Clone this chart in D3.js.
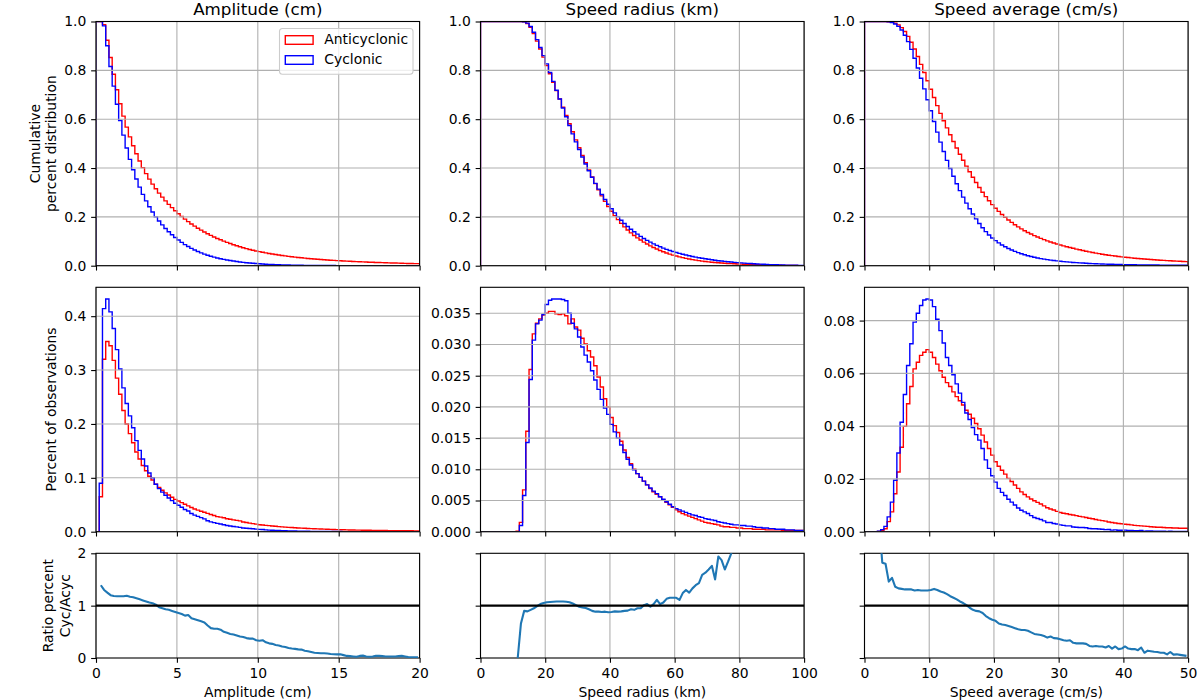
<!DOCTYPE html>
<html>
<head>
<meta charset="utf-8">
<script src="https://cdn.jsdelivr.net/npm/d3@7"></script>
<style>
    body { margin: 0; background: #fff; }
    text { font-family: "DejaVu Sans", sans-serif; fill: #000; }
    .tick text { font-size: 13.9px; }
</style>
</head>
<body>
<div id="chart"></div>
<script>
// histogram densities, 100 bins per panel (bin i covers [i*w, (i+1)*w])
const ampAnticyclonic = [
    0, 0.065, 0.32, 0.353, 0.345, 0.318, 0.285, 0.255, 0.225, 0.200,
    0.182, 0.165, 0.148, 0.135, 0.123, 0.113, 0.103, 0.096, 0.088, 0.082,
    0.077, 0.072, 0.068, 0.064, 0.060, 0.057, 0.054, 0.051, 0.048, 0.045,
    0.042, 0.040, 0.038, 0.036, 0.034, 0.032, 0.030, 0.028, 0.027, 0.026,
    0.024, 0.023, 0.022, 0.021, 0.020, 0.018, 0.017, 0.016, 0.015, 0.014,
    0.0130, 0.0124, 0.0118, 0.0112, 0.0106, 0.0100, 0.0095, 0.0090, 0.0085, 0.0081,
    0.0077, 0.0073, 0.0069, 0.0066, 0.0063, 0.0060, 0.0057, 0.0054, 0.0052, 0.0049,
    0.0047, 0.0045, 0.0043, 0.0041, 0.0039, 0.0037, 0.0035, 0.0034, 0.0032, 0.0031,
    0.0030, 0.0029, 0.0028, 0.0027, 0.0026, 0.0025, 0.0024, 0.0023, 0.0022, 0.0021,
    0.0020, 0.0020, 0.0019, 0.0019, 0.0018, 0.0018, 0.0017, 0.0017, 0.0016, 0.0016
];
const ampCyclonic = [
    0, 0.090, 0.414, 0.432, 0.408, 0.377, 0.338, 0.302, 0.267, 0.238,
    0.215, 0.193, 0.169, 0.151, 0.135, 0.122, 0.109, 0.100, 0.088, 0.080,
    0.0735, 0.0677, 0.0626, 0.0576, 0.0528, 0.0490, 0.0454, 0.0413, 0.0384, 0.0338,
    0.0307, 0.0284, 0.0262, 0.0238, 0.0204, 0.0182, 0.0168, 0.0154, 0.0143, 0.0130,
    0.0115, 0.0106, 0.0097, 0.0090, 0.0080, 0.0070, 0.0065, 0.0059, 0.0054, 0.0048,
    0.0043, 0.0040, 0.0034, 0.0030, 0.0028, 0.0025, 0.0023, 0.0020, 0.0017, 0.0015,
    0.0014, 0.0012, 0.0011, 0.0010, 0.0009, 0.0008, 0.00066, 0.00054, 0.0005, 0.00044,
    0.00042, 0.00038, 0.00033, 0.0003, 0.00027, 0.00026, 0.00019, 0.00014, 0.0001, 0.00008,
    0.00008, 0.0001, 0.00011, 0.00008, 0.00007, 0.00008, 0.0001, 0.0001, 0.00008, 0.00007,
    0.00007, 0.00008, 0.00007, 0.00006, 0.00005, 0.00004, 0.00004, 0.00004, 0.00003, 0.00003
];
// ratio Cyc/Acyc at bin centres
const ampRatio = [
    null, 1.39, 1.30, 1.25, 1.20, 1.185, 1.18, 1.18, 1.18, 1.19,
    1.17, 1.16, 1.14, 1.12, 1.10, 1.08, 1.06, 1.045, 1.02, 0.97,
    0.95, 0.93, 0.92, 0.90, 0.88, 0.86, 0.84, 0.81, 0.82, 0.76,
    0.74, 0.72, 0.70, 0.68, 0.62, 0.57, 0.56, 0.56, 0.54, 0.50,
    0.48, 0.46, 0.45, 0.43, 0.41, 0.40, 0.38, 0.37, 0.37, 0.34,
    0.33, 0.34, 0.30, 0.28, 0.27, 0.25, 0.24, 0.22, 0.21, 0.19,
    0.18, 0.175, 0.165, 0.16, 0.14, 0.13, 0.115, 0.10, 0.095, 0.09,
    0.09, 0.085, 0.076, 0.073, 0.07, 0.07, 0.055, 0.04, 0.035, 0.03,
    0.025, 0.04, 0.045, 0.03, 0.025, 0.03, 0.04, 0.04, 0.035, 0.03,
    0.03, 0.03, 0.03, 0.035, 0.04, 0.03, 0.02, 0.015, 0.015, 0.015
];

const radiusAnticyclonic = [
    0, 0, 0, 0, 0, 0, 0, 0, 0, 0,
    0, 0.0001, 0.0015, 0.0067, 0.0161, 0.0260, 0.0317, 0.0334, 0.0341, 0.0347,
    0.0350, 0.0353, 0.0353, 0.0349, 0.0348, 0.0349, 0.0346, 0.0333, 0.0341, 0.0328,
    0.0323, 0.0310, 0.0301, 0.0290, 0.0280, 0.0266, 0.0248, 0.0232, 0.0213, 0.0200,
    0.0183, 0.0170, 0.0159, 0.0145, 0.0131, 0.0119, 0.0109, 0.0100, 0.0093, 0.0087,
    0.0081, 0.0075, 0.0069, 0.0064, 0.0060, 0.0056, 0.0051, 0.0047, 0.0043, 0.0039,
    0.0035, 0.0032, 0.0029, 0.0027, 0.0025, 0.0023, 0.0021, 0.0019, 0.0017, 0.0015,
    0.0014, 0.0013, 0.0012, 0.0011, 0.0009, 0.0008, 0.0008, 0.0007, 0.0007, 0.0006,
    0.0006, 0.0005, 0.0005, 0.0005, 0.0004, 0.0004, 0.0004, 0.0004, 0.0003, 0.0003,
    0.0003, 0.0003, 0.0003, 0.0002, 0.0002, 0.0002, 0.0002, 0.0002, 0.0002, 0.0002
];
const radiusCyclonic = [
    0, 0, 0, 0, 0, 0, 0, 0, 0, 0,
    0, 0, 0.0010, 0.0058, 0.0143, 0.0244, 0.0307, 0.0333, 0.0339, 0.0348,
    0.0364, 0.0371, 0.0373, 0.0373, 0.0373, 0.0372, 0.0370, 0.0350, 0.0334, 0.0325,
    0.0312, 0.0296, 0.0283, 0.0272, 0.0258, 0.0243, 0.0228, 0.0212, 0.0198, 0.0188,
    0.0172, 0.0160, 0.0150, 0.0139, 0.0127, 0.0116, 0.0107, 0.0099, 0.0093, 0.0087,
    0.0081, 0.0075, 0.0070, 0.0065, 0.0061, 0.0056, 0.0052, 0.0048, 0.0044, 0.0040,
    0.0037, 0.0035, 0.0033, 0.0031, 0.0029, 0.0027, 0.0026, 0.0024, 0.0023, 0.0021,
    0.0020, 0.0019, 0.0018, 0.0016, 0.0015, 0.0014, 0.0013, 0.0012, 0.0011, 0.0011,
    0.0010, 0.0010, 0.0009, 0.0009, 0.0008, 0.0007, 0.0007, 0.0006, 0.0006, 0.0005,
    0.0005, 0.0004, 0.0004, 0.0004, 0.0003, 0.0003, 0.0003, 0.0002, 0.0002, 0.0002
];
const radiusRatio = [
    null, null, null, null, null, null, null, null, null, null,
    null, 0, 0.66, 0.90, 0.89, 0.92, 0.95, 0.99, 1.03, 1.05,
    1.065, 1.07, 1.075, 1.08, 1.08, 1.08, 1.075, 1.065, 1.04, 1.01,
    0.98, 0.965, 0.955, 0.93, 0.90, 0.885, 0.885, 0.88, 0.885, 0.875,
    0.88, 0.89, 0.885, 0.89, 0.90, 0.905, 0.93, 0.92, 0.95, 0.95,
    1.01, 1.03, 0.98, 1.03, 1.11, 1.03, 1.06, 1.13, 1.15, 1.15,
    1.15, 1.11, 1.24, 1.30, 1.25, 1.33, 1.39, 1.43, 1.59, 1.63,
    1.69, 1.76, 1.50, 1.94, 1.87, 1.69, 1.84, 2.0, 2.2, null,
    null, null, null, null, null, null, null, null, null, null,
    null, null, null, null, null, null, null, null, null, null
];

const speedAnticyclonic = [
    0, 0, 0, 0, 0.0001, 0.0005, 0.0011, 0.0038, 0.0075, 0.0144,
    0.0226, 0.0320, 0.0399, 0.0485, 0.0550, 0.0617, 0.0642, 0.0668, 0.0680, 0.0690,
    0.0680, 0.0660, 0.0635, 0.0610, 0.0585, 0.0565, 0.0550, 0.0530, 0.0512, 0.0496,
    0.0480, 0.0460, 0.0445, 0.0430, 0.0410, 0.0390, 0.0366, 0.0340, 0.0315, 0.0290,
    0.0265, 0.0248, 0.0233, 0.0218, 0.0202, 0.0190, 0.0177, 0.0164, 0.0151, 0.0141,
    0.0132, 0.0124, 0.0117, 0.0111, 0.0105, 0.0098, 0.0091, 0.0086, 0.0082, 0.0077,
    0.0073, 0.0070, 0.0068, 0.0065, 0.0063, 0.0061, 0.0058, 0.0056, 0.0054, 0.0051,
    0.0049, 0.0046, 0.0044, 0.0042, 0.0040, 0.0037, 0.0035, 0.0033, 0.0031, 0.0030,
    0.0028, 0.0027, 0.0026, 0.0024, 0.0023, 0.0022, 0.0021, 0.0020, 0.0019, 0.0018,
    0.0017, 0.0017, 0.0016, 0.0015, 0.0015, 0.0014, 0.0014, 0.0013, 0.0013, 0.0013
];
const speedCyclonic = [
    0, 0, 0, 0, 0.0002, 0.0008, 0.0020, 0.0056, 0.0112, 0.0195,
    0.0298, 0.0415, 0.0520, 0.0630, 0.0712, 0.0794, 0.0828, 0.0857, 0.0878, 0.0882,
    0.0878, 0.0853, 0.0805, 0.0762, 0.0715, 0.0660, 0.0630, 0.0595, 0.0560, 0.0525,
    0.0490, 0.0450, 0.0425, 0.0395, 0.0368, 0.0347, 0.0315, 0.0272, 0.0240, 0.0212,
    0.0188, 0.0164, 0.0149, 0.0137, 0.0123, 0.0112, 0.0101, 0.0090, 0.0081, 0.0075,
    0.0069, 0.0061, 0.0054, 0.0050, 0.0046, 0.0041, 0.0035, 0.0035, 0.0031, 0.0029,
    0.0026, 0.0024, 0.0022, 0.0022, 0.0018, 0.0017, 0.0016, 0.0016, 0.0015, 0.0012,
    0.0011, 0.0011, 0.0010, 0.0009, 0.0008, 0.00085, 0.0006, 0.0007, 0.00053, 0.00054,
    0.0006, 0.0005, 0.00044, 0.0004, 0.00035, 0.00044, 0.0002, 0.00028, 0.00025, 0.00022,
    0.0002, 0.00017, 0.00016, 0.0001, 0.00017, 0.00009, 0.0001, 0.00008, 0.00007, 0.00005
];
const speedRatio = [
    null, null, null, null, 2.6, 1.82, 1.80, 1.46, 1.53, 1.36,
    1.33, 1.32, 1.31, 1.31, 1.31, 1.29, 1.30, 1.29, 1.29, 1.29,
    1.30, 1.32, 1.30, 1.27, 1.25, 1.22, 1.18, 1.15, 1.12, 1.08,
    1.05, 1.01, 0.96, 0.92, 0.90, 0.89, 0.86, 0.80, 0.76, 0.73,
    0.71, 0.66, 0.64, 0.63, 0.61, 0.59, 0.57, 0.55, 0.535, 0.535,
    0.52, 0.49, 0.46, 0.45, 0.44, 0.42, 0.39, 0.41, 0.38, 0.375,
    0.36, 0.34, 0.33, 0.34, 0.29, 0.28, 0.28, 0.28, 0.27, 0.23,
    0.22, 0.23, 0.22, 0.22, 0.20, 0.23, 0.18, 0.22, 0.17, 0.18,
    0.22, 0.18, 0.17, 0.17, 0.15, 0.20, 0.10, 0.14, 0.13, 0.12,
    0.115, 0.10, 0.10, 0.07, 0.115, 0.064, 0.07, 0.06, 0.05, 0.04
];

// share of observations beyond the last bin (cumulative curve end value)
const tailAnticyclonic = [0.008, 0.0, 0.016];
const tailCyclonic = [0.0, 0.001, 0.002];

const binWidths = [0.2, 1, 0.5];
const titles = ['Amplitude (cm)', 'Speed radius (km)', 'Speed average (cm/s)'];
const xTicks = [[0, 5, 10, 15, 20], [0, 20, 40, 60, 80, 100], [0, 10, 20, 30, 40, 50]];
const cumulativeTicks = [0, 0.2, 0.4, 0.6, 0.8, 1.0];
const histTicks = [
    [0, 0.1, 0.2, 0.3, 0.4],
    [0, 0.005, 0.01, 0.015, 0.02, 0.025, 0.03, 0.035],
    [0, 0.02, 0.04, 0.06, 0.08]
];
const histTickFormats = ['.1f', '.3f', '.2f'];
const ratioTicks = [0, 1, 2];
const legendLabels = ['Anticyclonic', 'Cyclonic'];

const anticyclonic = [ampAnticyclonic, radiusAnticyclonic, speedAnticyclonic];
const cyclonic = [ampCyclonic, radiusCyclonic, speedCyclonic];
const ratios = [ampRatio, radiusRatio, speedRatio];

const width = 1200;
const height = 700;
const colLeft = [96, 480.5, 864.5];
const plotWidth = 323.6;
const rowTop = [21.5, 287.3, 553.3];
const rowHeight = [244.2, 244.4, 104.7];
const red = '#ff0000';
const blue = '#0000ff';

const svg = d3.select('#chart').append('svg')
    .attr('width', width)
    .attr('height', height);

function stepPoints(values, binWidth) {
    const points = [[0, 0]];
    values.forEach((v, i) => {
        points.push([i * binWidth, v], [(i + 1) * binWidth, v]);
    });
    points.push([values.length * binWidth, 0]);
    return points;
}

// share of observations at or above each bin's left edge
function reverseCumulative(values, tail) {
    const total = d3.sum(values);
    const fromLeft = d3.cumsum(values);
    return values.map((v, i) => tail + (1 - tail) * (total - fromLeft[i] + v) / total);
}

function panel(col, row, x, y, opts) {
    const h = rowHeight[row];
    const g = svg.append('g')
        .attr('transform', `translate(${colLeft[col]},${rowTop[row]})`);

    const clipId = `clip-${col}-${row}`;
    g.append('clipPath').attr('id', clipId)
        .append('rect')
        .attr('width', plotWidth)
        .attr('height', h);

    const plot = g.append('g').attr('clip-path', `url(#${clipId})`);
    const grid = g.append('g');

    grid.selectAll('.gx')
        .data(opts.xTicks)
        .join('line')
        .attr('x1', d => x(d))
        .attr('x2', d => x(d))
        .attr('y1', 0)
        .attr('y2', h)
        .attr('stroke', '#b0b0b0')
        .attr('stroke-width', 1.1);

    if (opts.gridY) {
        grid.selectAll('.gy')
            .data(opts.yTicks)
            .join('line')
            .attr('x1', 0)
            .attr('x2', plotWidth)
            .attr('y1', d => y(d))
            .attr('y2', d => y(d))
            .attr('stroke', '#b0b0b0')
            .attr('stroke-width', 1.1);
    }

    const xAxis = d3.axisBottom(x)
        .tickValues(opts.xTicks)
        .tickSize(4.86)
        .tickSizeOuter(0)
        .tickPadding(4.86)
        .tickFormat(opts.xLabels ? d3.format('d') : '');

    const yAxis = d3.axisLeft(y)
        .tickValues(opts.yTicks)
        .tickSize(4.86)
        .tickSizeOuter(0)
        .tickPadding(4.86)
        .tickFormat(opts.yLabels ? d3.format(opts.yFormat) : '');

    const top = g.append('g');
    top.append('g')
        .attr('transform', `translate(0,${h})`)
        .call(xAxis)
        .call(a => a.select('.domain').remove())
        .call(a => a.attr('font-size', null).attr('font-family', null))
        .call(a => a.selectAll('line').attr('stroke', '#000').attr('stroke-width', 1.1));

    top.append('g')
        .call(yAxis)
        .call(a => a.select('.domain').remove())
        .call(a => a.attr('font-size', null).attr('font-family', null))
        .call(a => a.selectAll('line').attr('stroke', '#000').attr('stroke-width', 1.1));

    top.append('rect')
        .attr('width', plotWidth)
        .attr('height', h)
        .attr('fill', 'none')
        .attr('stroke', '#000')
        .attr('stroke-width', 1.1);

    return { plot, grid, top };
}

for (let c = 0; c < 3; c++) {
    const w = binWidths[c];
    const n = anticyclonic[c].length;
    const x = d3.scaleLinear()
        .domain([0, n * w])
        .range([0, plotWidth]);

    // row 1: cumulative percent distribution
    const yCum = d3.scaleLinear().domain([0, 1]).range([rowHeight[0], 0]);
    const p1 = panel(c, 0, x, yCum, {
        xTicks: xTicks[c], yTicks: cumulativeTicks, yFormat: '.1f',
        xLabels: false, yLabels: true, gridY: true
    });
    const lineCum = d3.line().x(d => x(d[0])).y(d => yCum(d[1]));
    [[anticyclonic[c], tailAnticyclonic[c], red], [cyclonic[c], tailCyclonic[c], blue]]
        .forEach(([values, tail, color]) => {
            p1.plot.append('path')
                .attr('d', lineCum(stepPoints(reverseCumulative(values, tail), w)))
                .attr('fill', 'none')
                .attr('stroke', color)
                .attr('stroke-width', 1.4);
        });
    p1.grid.raise();
    p1.top.raise();

    // row 2: percent of observations
    const histMax = d3.max([...anticyclonic[c], ...cyclonic[c]]) * 1.05;
    const yHist = d3.scaleLinear().domain([0, histMax]).range([rowHeight[1], 0]);
    const p2 = panel(c, 1, x, yHist, {
        xTicks: xTicks[c], yTicks: histTicks[c], yFormat: histTickFormats[c],
        xLabels: false, yLabels: true, gridY: true
    });
    const lineHist = d3.line().x(d => x(d[0])).y(d => yHist(d[1]));
    [[anticyclonic[c], red], [cyclonic[c], blue]].forEach(([values, color]) => {
        p2.plot.append('path')
            .attr('d', lineHist(stepPoints(values, w)))
            .attr('fill', 'none')
            .attr('stroke', color)
            .attr('stroke-width', 1.4);
    });
    p2.grid.raise();
    p2.top.raise();

    // row 3: ratio Cyc/Acyc
    const yRatio = d3.scaleLinear().domain([0, 2]).range([rowHeight[2], 0]);
    const p3 = panel(c, 2, x, yRatio, {
        xTicks: xTicks[c], yTicks: ratioTicks, yFormat: 'd',
        xLabels: true, yLabels: c === 0, gridY: false
    });
    const ratioLine = d3.line()
        .defined(d => d.r !== null)
        .x(d => x(d.x))
        .y(d => yRatio(d.r));
    p3.top.raise();
    p3.plot.raise();
    p3.plot.append('path')
        .datum(ratios[c].map((r, i) => ({ x: (i + 0.5) * w, r: r })))
        .attr('d', ratioLine)
        .attr('fill', 'none')
        .attr('stroke', '#1f77b4')
        .attr('stroke-width', 2.1)
        .attr('stroke-linejoin', 'round');
    p3.plot.append('line')
        .attr('x1', 0)
        .attr('x2', plotWidth)
        .attr('y1', yRatio(1))
        .attr('y2', yRatio(1))
        .attr('stroke', '#000')
        .attr('stroke-width', 2.2);

    const cx = colLeft[c] + plotWidth / 2;
    svg.append('text')
        .attr('x', cx)
        .attr('y', 14.5)
        .attr('text-anchor', 'middle')
        .attr('font-size', '16.7px')
        .text(titles[c]);

    svg.append('text')
        .attr('x', cx)
        .attr('y', 696.5)
        .attr('text-anchor', 'middle')
        .attr('font-size', '13.9px')
        .text(titles[c]);
}

// y axis labels
const yLabels = [
    { lines: ['Cumulative', 'percent distribution'], xs: [39.5, 56.2], row: 0 },
    { lines: ['Percent of observations'], xs: [56.2], row: 1 },
    { lines: ['Ratio percent', 'Cyc/Acyc'], xs: [52.8, 69.5], row: 2 }
];
yLabels.forEach(lbl => {
    const cy = rowTop[lbl.row] + rowHeight[lbl.row] / 2;
    lbl.lines.forEach((t, i) => {
        svg.append('text')
            .attr('transform', `translate(${lbl.xs[i]},${cy}) rotate(-90)`)
            .attr('text-anchor', 'middle')
            .attr('font-size', '13.9px')
            .text(t);
    });
});

// legend
const legend = svg.append('g').attr('transform', 'translate(279.5,28.5)');
legend.append('rect')
    .attr('width', 133.5)
    .attr('height', 45.8)
    .attr('rx', 3)
    .attr('fill', '#fff')
    .attr('fill-opacity', 0.8)
    .attr('stroke', '#cccccc')
    .attr('stroke-width', 1.1);
legend.selectAll('.item')
    .data(legendLabels)
    .join('g')
    .attr('transform', (d, i) => `translate(0,${i * 20})`)
    .each(function(d, i) {
        const item = d3.select(this);
        item.append('rect')
            .attr('x', 5.8)
            .attr('y', 7.2)
            .attr('width', 27.8)
            .attr('height', 8.6)
            .attr('fill', 'none')
            .attr('stroke', i === 0 ? red : blue)
            .attr('stroke-width', 1.4);
        item.append('text')
            .attr('x', 44.8)
            .attr('y', 15.9)
            .attr('font-size', '13.9px')
            .text(d);
    });
</script>
</body>
</html>
